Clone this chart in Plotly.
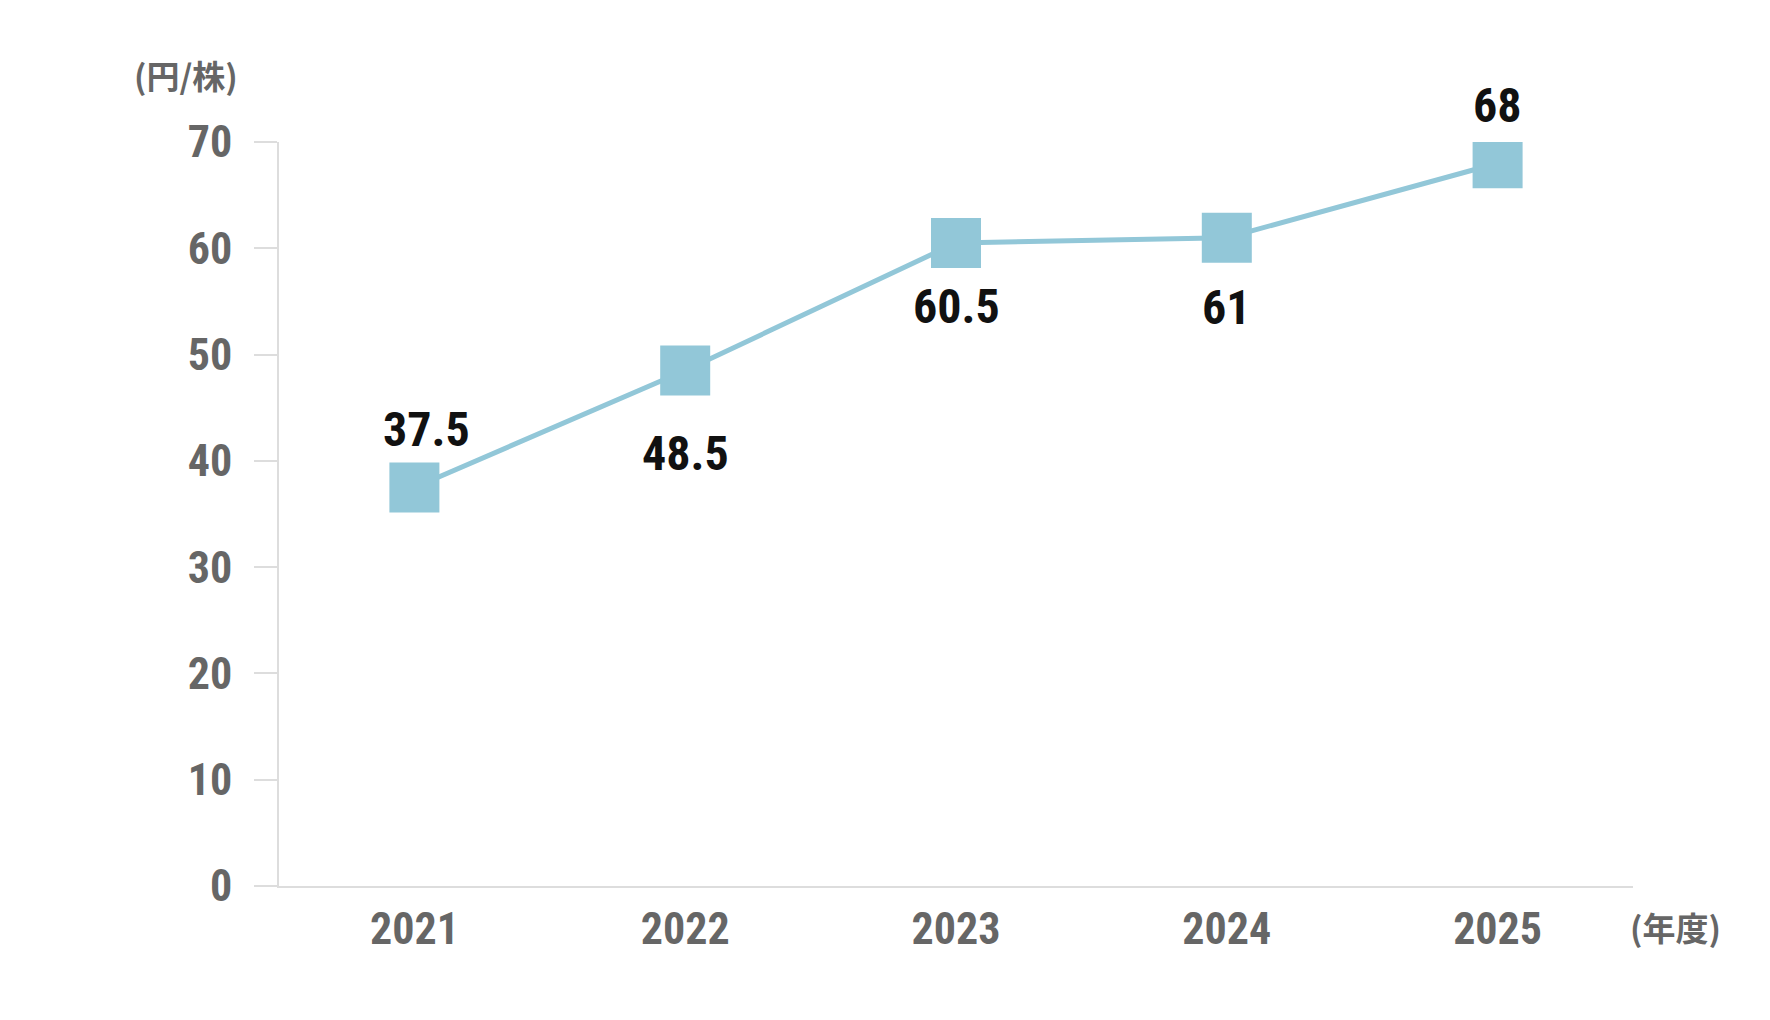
import plotly.graph_objects as go

years = ["2021", "2022", "2023", "2024", "2025"]
dividends = [37.5, 48.5, 60.5, 61, 68]
label_texts = ["37.5", "48.5", "60.5", "61", "68"]
label_shift = [58, -83, -64, -70, 58]
label_xshift = [12, 0, 0, 0, 0]
y_ticks = [0, 10, 20, 30, 40, 50, 60, 70]

NUM_FONT = "Roboto Condensed, Open Sans Condensed, sans-serif"
CJK_FONT = "Noto Sans CJK JP, sans-serif"
LINE_COLOR = "#92C7D8"
AXIS_COLOR = "#DDDDDD"
GRAY = "#666666"

fig = go.Figure()
fig.add_trace(go.Scatter(
    x=years, y=dividends, mode="lines+markers",
    line=dict(color=LINE_COLOR, width=5),
    marker=dict(symbol="square", size=50, color=LINE_COLOR),
    hoverinfo="skip", showlegend=False,
))

for i, (yv, t, ys, xs) in enumerate(zip(dividends, label_texts, label_shift, label_xshift)):
    fig.add_annotation(x=i, y=yv, xref="x", yref="y", text=t, showarrow=False,
                       yshift=ys, xshift=xs,
                       font=dict(family=NUM_FONT, size=48, color="#111111", weight="bold"))

fig.add_annotation(text="(円/株)", xref="paper", yref="paper", x=-0.069, y=1.09,
                   xanchor="center", yanchor="middle", showarrow=False,
                   font=dict(family=CJK_FONT, size=33, color=GRAY, weight="bold"))
fig.add_annotation(text="(年度)", xref="paper", yref="paper", x=0.9965, y=-0.055,
                   xanchor="left", yanchor="middle", showarrow=False,
                   font=dict(family=CJK_FONT, size=33, color=GRAY, weight="bold"))

fig.update_layout(
    width=1770, height=1020,
    margin=dict(l=279, r=137, t=142, b=134),
    paper_bgcolor="white", plot_bgcolor="white",
    xaxis=dict(type="category", range=[-0.5, 4.5], showline=True, linecolor=AXIS_COLOR,
               linewidth=2, showgrid=False, zeroline=False, ticks="",
               tickfont=dict(family=NUM_FONT, size=44, color=GRAY, weight="bold"),
               ticklabelstandoff=3),
    yaxis=dict(range=[0, 70], tickvals=y_ticks, showline=True, linecolor=AXIS_COLOR,
               linewidth=2, showgrid=False, zeroline=False, ticks="outside",
               ticklen=23, tickwidth=2, tickcolor=AXIS_COLOR,
               tickfont=dict(family=NUM_FONT, size=44, color=GRAY, weight="bold"),
               ticklabelstandoff=13),
)

fig.write_html("out.html")
